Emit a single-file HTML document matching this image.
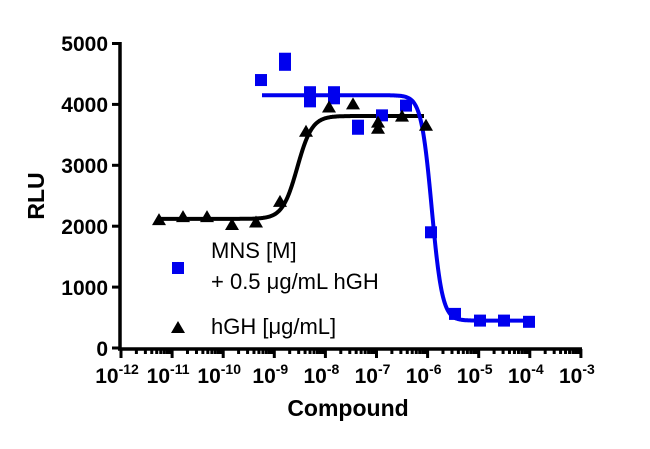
<!DOCTYPE html>
<html><head><meta charset="utf-8"><style>
body{margin:0;background:#fff;width:650px;height:444px;overflow:hidden}
text{font-family:"Liberation Sans",Arial,sans-serif}
</style></head><body>
<svg id="s" width="650" height="444" xmlns="http://www.w3.org/2000/svg">
<g stroke="#000" stroke-width="3.5" fill="none">
<line x1="120" y1="42" x2="120" y2="350"/>
<line x1="118" y1="349" x2="582" y2="349"/>
</g>
<g id="ticks" stroke="#000" stroke-width="3"></g>
<g font-size="21" font-weight="bold" text-anchor="end">
<text x="108" y="51">5000</text><text x="108" y="112">4000</text><text x="108" y="173">3000</text>
<text x="108" y="234">2000</text><text x="108" y="295">1000</text><text x="108" y="356">0</text>
</g>
<g id="xl" font-size="21" font-weight="bold" text-anchor="middle"></g>
<text x="44" y="196" font-size="23" font-weight="bold" text-anchor="middle" transform="rotate(-90 44 196)">RLU</text>
<text x="348" y="416" font-size="23" font-weight="bold" text-anchor="middle">Compound</text>
<path id="cb" stroke="#000" stroke-width="4" fill="none"/>
<path id="cbl" stroke="#0000ee" stroke-width="4" fill="none"/>
<g id="pts"></g>
<rect x="172" y="262" width="12" height="12" fill="#0000ee"/>
<polygon points="178,321 171,333 185,333" fill="#000"/>
<g font-size="22"><text x="211" y="258">MNS [M]</text><text x="211" y="289">+ 0.5 &#956;g/mL hGH</text><text x="211" y="334">hGH [&#956;g/mL]</text></g>
</svg>
<script>
var X=d=>121+(d+12)*51.1, Y=v=>348-v*0.0609, ns="http://www.w3.org/2000/svg";
var s=document.getElementById('ticks'),xl=document.getElementById('xl');
function ln(g,a){var e=document.createElementNS(ns,'line');for(var k in a)e.setAttribute(k,a[k]);g.appendChild(e);}
for(var v=0;v<=5000;v+=1000)ln(s,{x1:112,x2:120,y1:Y(v),y2:Y(v)});
for(var d=-12;d<=-3;d++){ln(s,{x1:X(d),x2:X(d),y1:349,y2:358});
 var t=document.createElementNS(ns,'text');t.setAttribute('x',X(d)-4);t.setAttribute('y',383);
 t.innerHTML='10<tspan font-size="14" dy="-9">'+d+'</tspan>';xl.appendChild(t);
 if(d<-3)for(var m=2;m<10;m++){var xx=X(d+Math.log10(m));ln(s,{x1:xx,x2:xx,y1:349,y2:354});}}
function curve(id,b,tp,mid,h,x0,x1){var p='';for(var x=x0;x<=x1;x+=0.5){var d=(x-121)/51.1-12;var v=b+(tp-b)/(1+Math.pow(10,(mid-d)*h));p+=(p?'L':'M')+x+','+Y(v).toFixed(1);}document.getElementById(id).setAttribute('d',p);}
curve('cb',2120,3810,-8.55,3.0,158,424);
curve('cbl',4150,450,-5.92,4.2,262,531);
var P=document.getElementById('pts');
[[261,4400],[285,4650],[285,4750],[310,4050],[310,4200],[334,4100],[334,4200],[358,3600],[358,3650],[382,3820],[406,3980],[431,1900],[455,560],[480,450],[504,450],[529,430]].forEach(function(p){var r=document.createElementNS(ns,'rect');r.setAttribute('x',p[0]-6);r.setAttribute('y',Y(p[1])-6);r.setAttribute('width',12);r.setAttribute('height',12);r.setAttribute('fill','#0000ee');P.appendChild(r);});
[[159,2100],[183,2150],[207,2150],[232,2020],[256,2060],[280,2400],[306,3550],[329,3950],[353,4000],[378,3600],[378,3700],[402,3800],[426,3650]].forEach(function(p){var x=p[0],y=Y(p[1]);var t=document.createElementNS(ns,'polygon');t.setAttribute('points',x+','+(y-7)+' '+(x-7)+','+(y+5)+' '+(x+7)+','+(y+5));t.setAttribute('fill','#000');P.appendChild(t);});
</script>
</body></html>
